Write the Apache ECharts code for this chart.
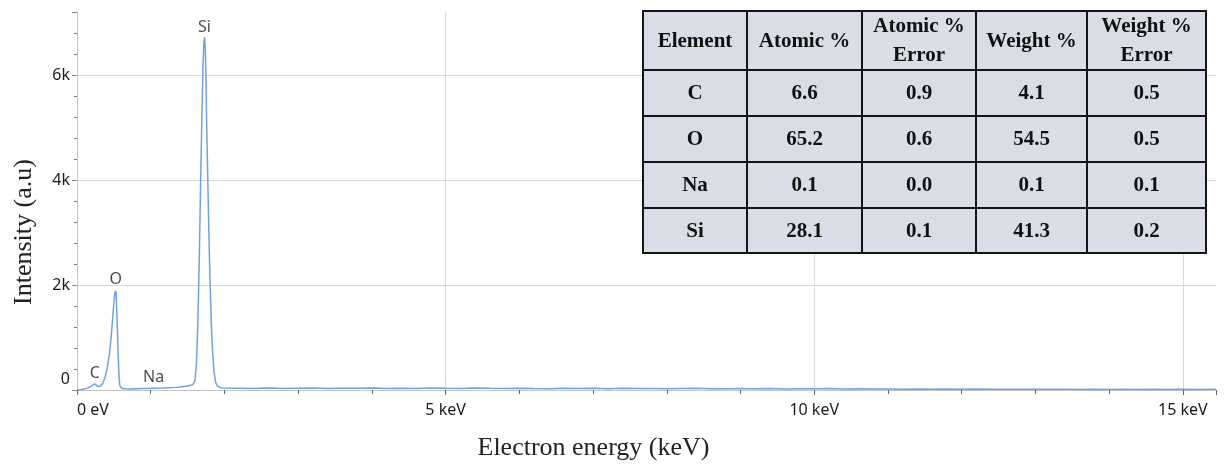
<!DOCTYPE html>
<html>
<head>
<meta charset="utf-8">
<script src="https://cdn.jsdelivr.net/npm/echarts@6/dist/echarts.min.js"></script>
<style>html,body{margin:0;padding:0;background:#fff}#chart{width:1225px;height:468px}</style>
</head>
<body>
<div id="chart"></div>
<script>
// ---- data ----
var energyKeV = [0, 0.05, 0.1, 0.15, 0.2, 0.22, 0.24, 0.26, 0.28, 0.3, 0.32, 0.35, 0.38, 0.41, 0.44, 0.46, 0.48, 0.5, 0.51, 0.52, 0.525, 0.53, 0.54, 0.55, 0.56, 0.57, 0.58, 0.6, 0.63, 0.67, 0.72, 0.8, 0.9, 1.0, 1.04, 1.08, 1.15, 1.25, 1.35, 1.42, 1.48, 1.53, 1.57, 1.6, 1.62, 1.64, 1.66, 1.68, 1.7, 1.71, 1.72, 1.73, 1.74, 1.75, 1.76, 1.78, 1.8, 1.82, 1.84, 1.86, 1.88, 1.9, 1.95, 2.0,
  2.2, 2.4, 2.6, 2.8, 3.0, 3.2, 3.4, 3.6, 3.8, 4.0, 4.2, 4.4, 4.6, 4.8, 5.0, 5.2, 5.4, 5.6, 5.8, 6.0, 6.2, 6.4, 6.6, 6.8, 7.0, 7.2, 7.4, 7.6, 7.8, 8.0, 8.2, 8.4, 8.6, 8.8, 9.0, 9.2, 9.4, 9.6, 9.8, 10.0, 10.2, 10.4, 10.6, 10.8, 11.0, 11.2, 11.4, 11.6, 11.8, 12.0, 12.2, 12.4, 12.6, 12.8, 13.0, 13.2, 13.4, 13.6, 13.8, 14.0, 14.2, 14.4, 14.6, 14.8, 15.0, 15.2, 15.45];
var counts = [5, 8, 18, 40, 80, 105, 118, 95, 70, 60, 75, 130, 240, 420, 680, 950, 1300, 1650, 1800, 1890, 1910, 1850, 1500, 1050, 600, 260, 90, 40, 25, 22, 20, 24, 27, 30, 38, 33, 36, 42, 50, 62, 72, 85, 100, 180, 500, 1300, 2600, 4200, 5600, 6200, 6600, 6720, 6500, 5900, 5000, 3600, 2300, 1350, 700, 330, 150, 80, 45, 38,
  34, 30, 36, 28, 33, 38, 29, 35, 31, 40, 30, 34, 27, 36, 32, 29, 38, 31, 27, 35, 30, 26, 33, 28, 31, 25, 34, 27, 30, 24, 29, 33, 26, 22, 28, 24, 30, 21, 25, 22, 27, 19, 23, 18, 21, 16, 19, 15, 18, 14, 17, 13, 16, 12, 15, 12, 14, 11, 13, 10, 14, 11, 12, 10, 13, 11, 12];

var peakNames = ['C', 'O', 'Na', 'Si'];
var peakEnergy = [0.24, 0.525, 1.04, 1.73];
var peakCounts = [118, 1910, 40, 6720];

var yTicks = [0, 2000, 4000, 6000];
var xTickLabels = ['0 eV', '5 keV', '10 keV', '15 keV'];

var tableHeader = ['Element', 'Atomic %', 'Atomic %\nError', 'Weight %', 'Weight %\nError'];
var tableElement = ['C', 'O', 'Na', 'Si'];
var atomicPct = ['6.6', '65.2', '0.1', '28.1'];
var atomicErr = ['0.9', '0.6', '0.0', '0.1'];
var weightPct = ['4.1', '54.5', '0.1', '41.3'];
var weightErr = ['0.5', '0.5', '0.1', '0.2'];

// ---- build ----
var spectrum = energyKeV.map(function (e, i) { return [e, counts[i]]; });
var peaks = peakNames.map(function (n, i) { return { name: n, value: [peakEnergy[i], peakCounts[i]] }; });

var colEdges = [643, 747, 862, 976, 1087, 1206];
var rowEdges = [11, 70, 116, 162, 208, 253];
var tableRows = [tableHeader].concat(tableElement.map(function (el, i) {
  return [el, atomicPct[i], atomicErr[i], weightPct[i], weightErr[i]];
}));
var graphics = [];
tableRows.forEach(function (row, r) {
  row.forEach(function (txt, c) {
    var x0 = colEdges[c], x1 = colEdges[c + 1], y0 = rowEdges[r], y1 = rowEdges[r + 1];
    graphics.push({
      type: 'rect', z: 100,
      shape: { x: x0, y: y0, width: x1 - x0, height: y1 - y0 },
      style: { fill: '#d9dde6', stroke: '#141414', lineWidth: 2 }
    });
    graphics.push({
      type: 'text', z: 101,
      x: (x0 + x1) / 2, y: (y0 + y1) / 2 + 1,
      style: {
        text: txt, align: 'center', verticalAlign: 'middle',
        fontFamily: '"Liberation Serif", "DejaVu Serif", serif', fontWeight: 'bold', fontSize: 21,
        lineHeight: 29, fill: '#111'
      }
    });
  });
});

var chart = echarts.init(document.getElementById('chart'), null, { renderer: 'canvas' });
chart.setOption({
  animation: false,
  backgroundColor: '#ffffff',
  grid: { left: 77, right: 9, top: 12, bottom: 78, containLabel: false, outerBoundsMode: 'none' },
  xAxis: {
    type: 'value', min: 0, max: 15.45, interval: 5,
    name: 'Electron energy (keV)', nameLocation: 'middle', nameGap: 45,
    nameTextStyle: { fontFamily: '"Liberation Serif", serif', fontSize: 26, color: '#222', padding: [0, 106, 0, 0] },
    axisLine: { show: true, lineStyle: { color: '#c4c4c4', width: 1 } },
    axisTick: { show: true, length: 5, lineStyle: { color: '#666' } },
    minorTick: { show: true, splitNumber: 5, length: 4, lineStyle: { color: '#666' } },
    splitLine: { show: true, showMinLine: false, showMaxLine: false, lineStyle: { color: '#dadada', width: 1 } },
    axisLabel: {
      margin: 12, fontFamily: '"Noto Sans", sans-serif', fontSize: 16, color: '#1a1a1a',
      showMaxLabel: false, alignMinLabel: 'left',
      formatter: function (v) { var i = Math.round(v / 5); return (Math.abs(v - i * 5) < 1e-6 && xTickLabels[i]) ? xTickLabels[i] : ''; }
    }
  },
  yAxis: {
    type: 'value', min: 0, max: 7200, interval: 2000,
    name: 'Intensity (a.u)', nameLocation: 'middle', nameGap: 40, nameRotate: 90,
    nameTextStyle: { fontFamily: '"Liberation Serif", serif', fontSize: 26, color: '#222', padding: [0, 62, 0, 0] },
    axisLine: { show: true, lineStyle: { color: '#c4c4c4', width: 1 } },
    axisTick: { show: true, length: 5, lineStyle: { color: '#888' } },
    minorTick: { show: true, splitNumber: 5, length: 3, lineStyle: { color: '#777' } },
    splitLine: { show: true, showMinLine: false, showMaxLine: false, lineStyle: { color: '#d6d6d6', width: 1 } },
    axisLabel: {
      margin: 7, fontFamily: '"Noto Sans", sans-serif', fontSize: 16, color: '#1a1a1a',
      showMaxLabel: false,
      formatter: function (v) {
        if (yTicks.indexOf(v) < 0) return '';
        if (v === 0) return '{z|0}';
        return (v / 1000) + 'k';
      },
      rich: { z: { fontFamily: '"Noto Sans", sans-serif', fontSize: 16, color: '#1a1a1a', padding: [0, 0, 22, 0] } }
    }
  },
  series: [
    {
      type: 'line', data: spectrum, showSymbol: false, smooth: false,
      lineStyle: { color: '#6fa3dc', width: 1.5 }, z: 3
    },
    {
      type: 'scatter', data: peaks, symbolSize: 0, z: 4,
      label: {
        show: true, position: 'top', distance: 2,
        formatter: function (p) { return p.name; },
        fontFamily: '"Noto Sans", sans-serif', fontSize: 16, color: '#1a1a1a'
      }
    }
  ],
  graphic: graphics
});
</script>
</body>
</html>
